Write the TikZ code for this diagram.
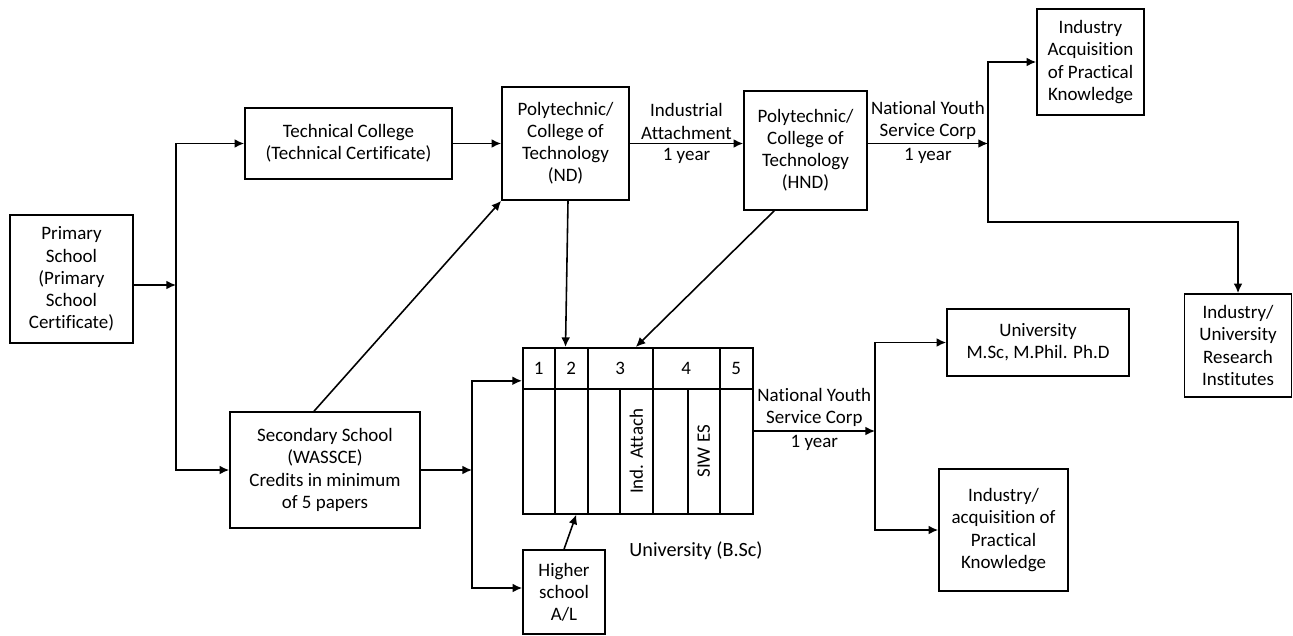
\documentclass[tikz,border=0pt]{standalone}
\usepackage{fontspec}
\setmainfont{Carlito}[Ligatures=CommonOff]
\usetikzlibrary{arrows.meta,positioning}

\tikzset{
  txt/.style={font=\fontsize{10.8}{12.6}\selectfont},
  blk/.style={txt, draw, line width=0.9pt, align=center, inner sep=1pt,
    minimum width=#1*0.02cm},
  cell/.style={txt, draw, line width=0.9pt, inner sep=0pt, anchor=north west},
  lbl/.style={txt, align=center, inner sep=1pt},
  ln/.style={line width=0.9pt},
  arr/.style={ln, -{Latex[length=5.5pt,width=5pt]}}
}

\begin{document}
\begin{tikzpicture}[x=0.02cm,y=-0.02cm]
\useasboundingbox (0,0) rectangle (1293,635);

% boxes
\node[blk=123, minimum height=128*0.02cm] (prim) at (71.5,279)
  {Primary\\School\\(Primary\\School\\Certificate)};
\node[blk=207, minimum height=71*0.02cm] (tech) at (348.5,143.5)
  {Technical College\\(Technical Certificate)};
\node[blk=127, minimum height=113*0.02cm] (nd) at (565.5,143.5)
  {Polytechnic/\\College of\\Technology\\(ND)};
\node[blk=123, minimum height=119*0.02cm] (hnd) at (805.5,150.5)
  {Polytechnic/\\College of\\Technology\\(HND)};
\node[blk=107, minimum height=106*0.02cm] (indacq) at (1090.5,62)
  {Industry\\Acquisition\\of Practical\\Knowledge};
\node[blk=107, minimum height=103*0.02cm] (indres) at (1238,345.5)
  {Industry/\\University\\Research\\Institutes};
\node[blk=190, minimum height=116*0.02cm] (sec) at (325,470)
  {Secondary School\\(WASSCE)\\Credits in minimum\\of 5 papers};
\node[blk=82, minimum height=84*0.02cm] (higher) at (564,592)
  {Higher\\school\\A/L};
\node[blk=182, minimum height=67*0.02cm] (msc) at (1038,342.5)
  {University\\M.Sc, M.Phil. Ph.D};
\node[blk=129, minimum height=122*0.02cm] (indpk) at (1003.5,530)
  {Industry/\\acquisition of\\Practical\\Knowledge};

% university (B.Sc) block
\foreach \a/\b/\t [count=\i] in {522/554/1,554/587/2,587/652/3,652/719/4,719/752/5}
  \node[cell, minimum width=(\b-\a)*0.02cm, minimum height=41*0.02cm] (top\i) at (\a,347) {\t};
\foreach \a/\b [count=\i] in {522/554,554/587,587/619,619/652,652/687,687/719,719/752}
  \node[cell, minimum width=(\b-\a)*0.02cm, minimum height=125*0.02cm] (col\i) at (\a,388) {};
\node[lbl, rotate=90] at (col4) {Ind. Attach};
\node[lbl, rotate=90] at (col6) {SIW ES};
\node[lbl, font=\fontsize{11.5}{13}\selectfont] (bsc) at (696,551) {University (B.Sc)};

% junctions
\coordinate (j1) at (176,285);
\coordinate (j2) at (988,143.5);
\coordinate (j3) at (472,470);
\coordinate (j4) at (875,431);
\coordinate (j5) at (988,222);

% connectors
\draw[arr] (prim.east |- j1) -- (j1);
\draw[arr] (j1) |- (tech.west);
\draw[arr] (j1) |- (sec.west);
\draw[arr] (tech) -- (nd);
\draw[arr] (nd.east) -- (nd.east -| hnd.west)
  node[lbl, midway, above=1pt] {Industrial\\Attachment}
  node[lbl, midway, below=1pt] {1 year};
\draw[arr] (hnd.east |- j2) -- (j2)
  node[lbl, midway, above=1pt] {National Youth\\Service Corp}
  node[lbl, midway, below=1pt] {1 year};
\draw[arr] (j2) |- (indacq.west);
\draw[arr] (j2) -- (j5) -| (indres.north);
\draw[arr] ([xshift=-0.22cm]sec.north) -- (nd.south west);
\draw[arr] (sec.east) -- (j3);
\draw[arr] (j3) |- ([yshift=-0.25cm]top1.west);
\draw[arr] (j3) |- ([yshift=0.08cm]higher.west);
\draw[arr] (higher.north) -- ([xshift=0.1cm]col2.south);
\draw[arr] ([xshift=0.05cm]nd.south) -- (nd.south |- top2.north);
\draw[arr] ([xshift=0.62cm]hnd.south west) -- ([xshift=0.31cm]top3.north);
\draw[arr] (col7.east |- j4) -- (j4)
  node[lbl, midway, above=1pt] {National Youth\\Service Corp}
  node[lbl, midway, below=1pt] {1 year};
\draw[arr] (j4) |- (msc.west);
\draw[arr] (j4) |- (indpk.west);
\end{tikzpicture}
\end{document}
